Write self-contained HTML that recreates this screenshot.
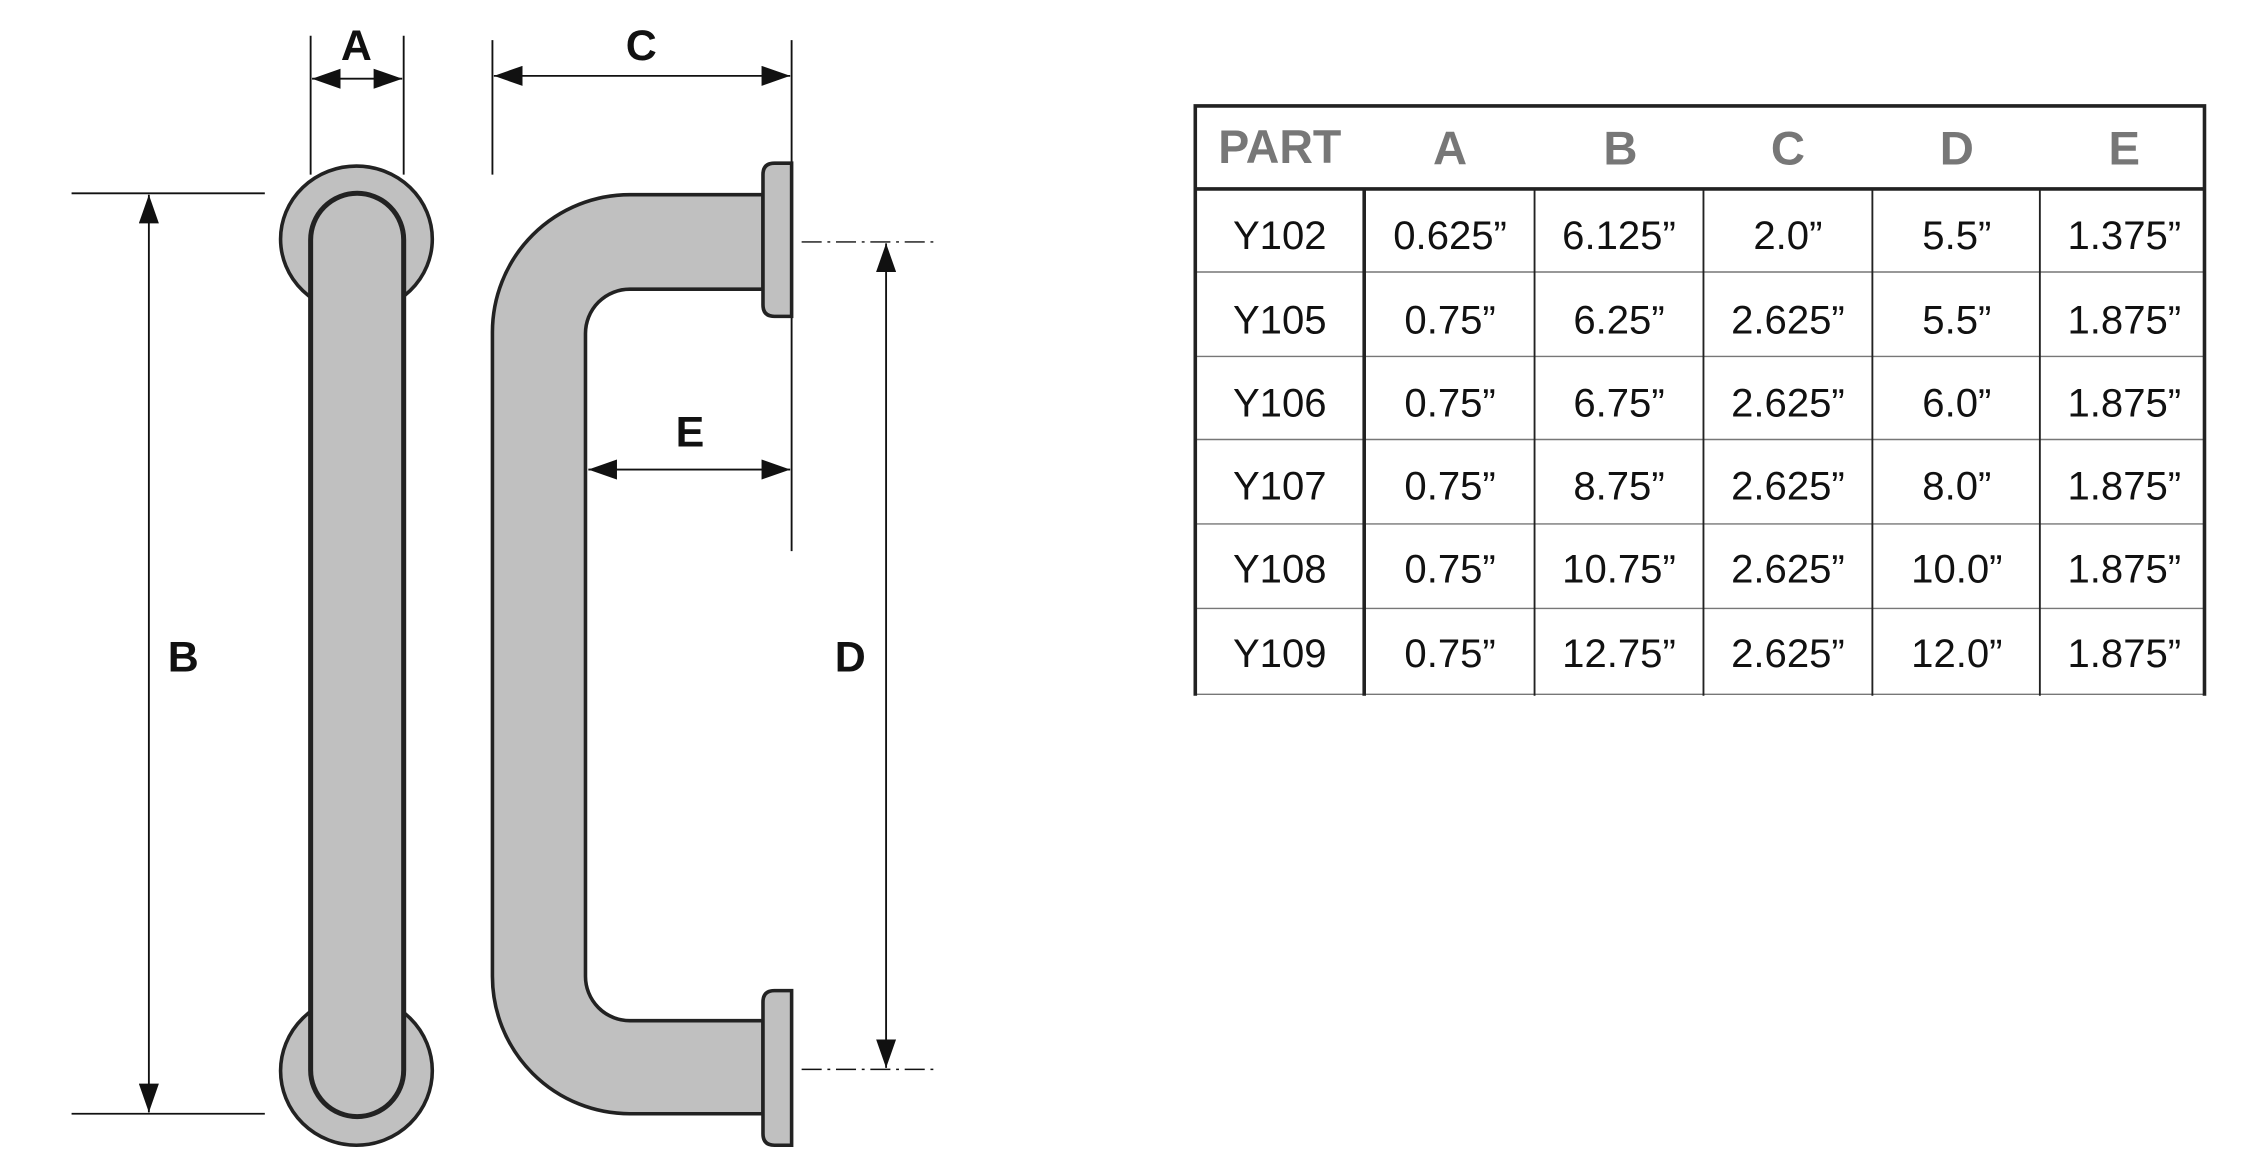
<!DOCTYPE html>
<html><head><meta charset="utf-8"><style>html,body{margin:0;padding:0;background:#fff}svg{display:block}</style></head>
<body>
<svg width="2246" height="1167" viewBox="0 0 1569 815.2" preserveAspectRatio="none" xmlns="http://www.w3.org/2000/svg" font-family="Liberation Sans, sans-serif">
<defs>
<marker id="ar" viewBox="0 0 20 14" refX="20" refY="7" markerWidth="20" markerHeight="14" markerUnits="userSpaceOnUse" orient="auto-start-reverse"><path d="M0,0 L20,7 L0,14 Z" fill="#111"/></marker>
</defs>
<g stroke="#111" stroke-width="1.3" fill="none">
<line x1="217" y1="25" x2="217" y2="122"/><line x1="282" y1="25" x2="282" y2="122"/>
<line x1="218" y1="55" x2="281" y2="55" marker-start="url(#ar)" marker-end="url(#ar)"/>
<line x1="50" y1="135" x2="185" y2="135"/><line x1="50" y1="778" x2="185" y2="778"/>
<line x1="104" y1="136" x2="104" y2="777" marker-start="url(#ar)" marker-end="url(#ar)"/>
<line x1="344" y1="28" x2="344" y2="122"/><line x1="553" y1="28" x2="553" y2="114"/>
<line x1="345" y1="53" x2="552" y2="53" marker-start="url(#ar)" marker-end="url(#ar)"/>
<line x1="553" y1="221" x2="553" y2="385"/>
<line x1="411" y1="328" x2="552" y2="328" marker-start="url(#ar)" marker-end="url(#ar)"/>
<line x1="560" y1="169" x2="655" y2="169" stroke-dasharray="14 4 2 4" stroke-width="1"/>
<line x1="560" y1="747" x2="655" y2="747" stroke-dasharray="14 4 2 4" stroke-width="1"/>
<line x1="619" y1="170" x2="619" y2="746" marker-start="url(#ar)" marker-end="url(#ar)"/>
</g>
<g font-weight="bold" font-size="30" fill="#111" text-anchor="middle">
<text x="249" y="42">A</text><text x="128" y="469">B</text><text x="448" y="42">C</text><text x="594" y="469">D</text><text x="482" y="312">E</text>
</g>
<g fill="#c0c0c0" stroke="#222" stroke-width="2.5">
<ellipse cx="249" cy="167" rx="53" ry="51"/>
<ellipse cx="249" cy="748" rx="53" ry="52"/>
<rect x="217" y="135" width="65" height="645" rx="32.5" stroke-width="3.5"/>
</g>
<g fill="#c0c0c0" stroke="#222" stroke-width="2.5">
<path d="M533,136 L440,136 A96,96 0 0 0 344,232 L344,682 A96,96 0 0 0 440,778 L533,778 L533,713 L440,713 A31,31 0 0 1 409,682 L409,233 A31,31 0 0 1 440,202 L533,202 Z"/>
<path d="M541,114 L553,114 L553,221 L541,221 Q533,221 533,213 L533,122 Q533,114 541,114 Z"/>
<path d="M541,692 L553,692 L553,800 L541,800 Q533,800 533,792 L533,700 Q533,692 541,692 Z"/>
</g>
<g stroke="#777" stroke-width="1">
<line x1="835" y1="190" x2="1540" y2="190"/><line x1="835" y1="249" x2="1540" y2="249"/>
<line x1="835" y1="307" x2="1540" y2="307"/><line x1="835" y1="366" x2="1540" y2="366"/>
<line x1="835" y1="425" x2="1540" y2="425"/><line x1="835" y1="485" x2="1540" y2="485"/>
</g>
<g stroke="#222" stroke-width="1.3">
<line x1="1072" y1="132" x2="1072" y2="486"/><line x1="1190" y1="132" x2="1190" y2="486"/>
<line x1="1308" y1="132" x2="1308" y2="486"/><line x1="1425" y1="132" x2="1425" y2="486"/>
</g>
<g stroke="#222" stroke-width="2.5" fill="none">
<line x1="953" y1="132" x2="953" y2="486"/>
<path d="M835,486 L835,74 L1540,74 L1540,486"/>
<line x1="835" y1="132" x2="1540" y2="132"/>
</g>
<g font-weight="bold" font-size="33" fill="#777" text-anchor="middle">
<text x="894" y="114" textLength="86" lengthAdjust="spacingAndGlyphs">PART</text>
<text x="1013" y="115">A</text><text x="1132" y="115">B</text><text x="1249" y="115">C</text><text x="1367" y="115">D</text><text x="1484" y="115">E</text>
</g>
<g font-size="28" fill="#111" text-anchor="middle">
<text x="894" y="174">Y102</text><text x="1013" y="174">0.625”</text><text x="1131" y="174">6.125”</text><text x="1249" y="174">2.0”</text><text x="1367" y="174">5.5”</text><text x="1484" y="174">1.375”</text>
<text x="894" y="233">Y105</text><text x="1013" y="233">0.75”</text><text x="1131" y="233">6.25”</text><text x="1249" y="233">2.625”</text><text x="1367" y="233">5.5”</text><text x="1484" y="233">1.875”</text>
<text x="894" y="291">Y106</text><text x="1013" y="291">0.75”</text><text x="1131" y="291">6.75”</text><text x="1249" y="291">2.625”</text><text x="1367" y="291">6.0”</text><text x="1484" y="291">1.875”</text>
<text x="894" y="349">Y107</text><text x="1013" y="349">0.75”</text><text x="1131" y="349">8.75”</text><text x="1249" y="349">2.625”</text><text x="1367" y="349">8.0”</text><text x="1484" y="349">1.875”</text>
<text x="894" y="407">Y108</text><text x="1013" y="407">0.75”</text><text x="1131" y="407">10.75”</text><text x="1249" y="407">2.625”</text><text x="1367" y="407">10.0”</text><text x="1484" y="407">1.875”</text>
<text x="894" y="466">Y109</text><text x="1013" y="466">0.75”</text><text x="1131" y="466">12.75”</text><text x="1249" y="466">2.625”</text><text x="1367" y="466">12.0”</text><text x="1484" y="466">1.875”</text>
</g>
</svg>
</body></html>
